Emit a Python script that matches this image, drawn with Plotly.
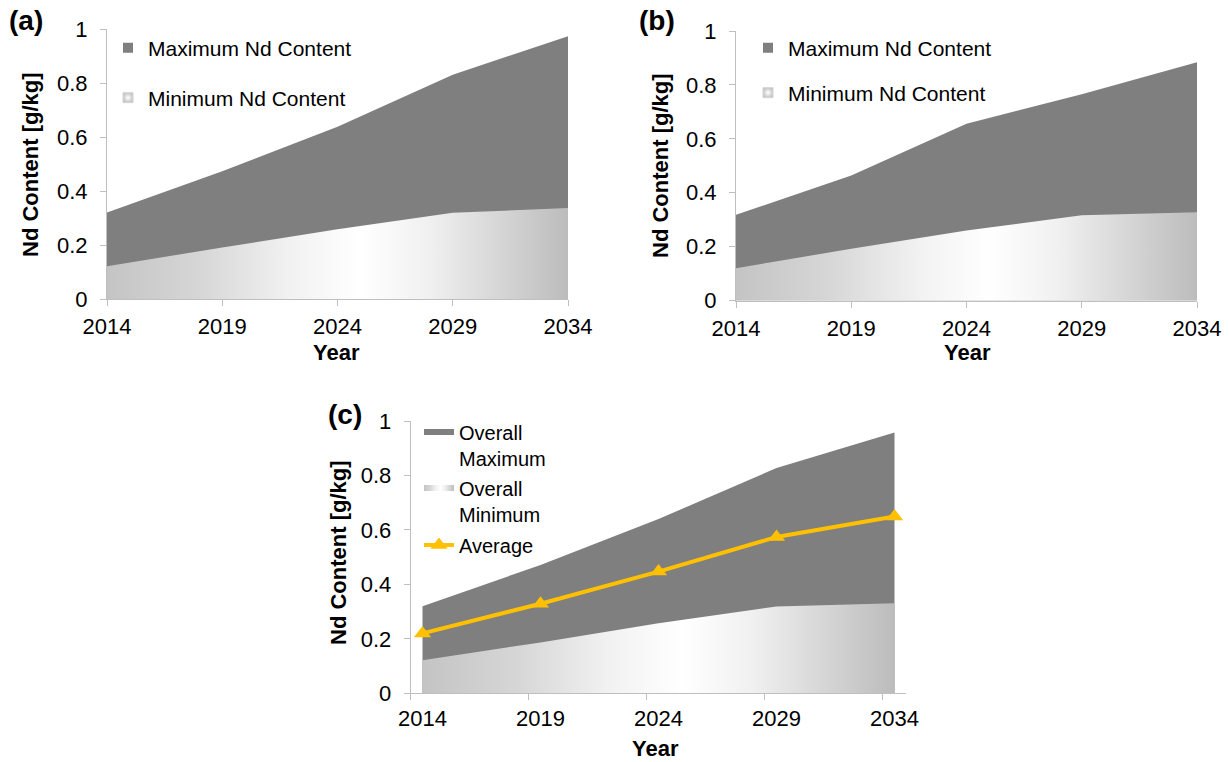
import plotly.graph_objects as go

# Projection years shown on every panel
years = [2014, 2019, 2024, 2029, 2034]

# Panel (a): maximum / minimum Nd content [g/kg]
max_a = [0.320, 0.473, 0.638, 0.831, 0.973]
min_a = [0.121, 0.191, 0.258, 0.319, 0.337]

# Panel (b)
max_b = [0.318, 0.464, 0.656, 0.765, 0.884]
min_b = [0.120, 0.192, 0.260, 0.316, 0.327]

# Panel (c): overall envelope and average
max_c = [0.320, 0.471, 0.640, 0.827, 0.958]
min_c = [0.121, 0.187, 0.257, 0.319, 0.331]
avg_c = [0.220, 0.329, 0.447, 0.574, 0.649]

y_tickvals = [0, 0.2, 0.4, 0.6, 0.8, 1]
y_ticktext = ["0", "0.2", "0.4", "0.6", "0.8", "1"]
x_ticktext = ["2014", "2019", "2024", "2029", "2034"]

W, H = 1229, 762
FONT = "Liberation Sans, Arial, sans-serif"
MAX_COLOR = "#7f7f7f"
AXIS_COLOR = "#bfbfbf"
AVG_COLOR = "#ffc000"
MIN_GRADIENT = dict(
    type="horizontal",
    colorscale=[[0, "#c4c4c4"], [0.2, "#d6d6d6"], [0.4, "#f2f2f2"],
                [0.55, "#ffffff"], [0.7, "#f0f0f0"], [0.85, "#d6d6d6"],
                [1, "#bcbcbc"]],
)


def px_x(v):
    return v / W


def px_y(v):
    return 1 - v / H


fig = go.Figure()


def add_envelope(xa, ya, ymax, ymin, name_max, name_min, leg_max, leg_min,
                 square_keys):
    fig.add_trace(go.Scatter(
        x=years, y=ymax, mode="none", fill="tozeroy", fillcolor=MAX_COLOR,
        name=name_max, xaxis=xa, yaxis=ya, legend=leg_max,
        showlegend=not square_keys,
    ))
    fig.add_trace(go.Scatter(
        x=years, y=ymin, mode="none", fill="tozeroy", fillcolor="#d9d9d9",
        fillgradient=MIN_GRADIENT,
        name=name_min, xaxis=xa, yaxis=ya, legend=leg_min,
        showlegend=not square_keys,
    ))
    if square_keys:
        # small square legend keys
        fig.add_trace(go.Scatter(
            x=[None], y=[None], mode="markers", name=name_max,
            marker=dict(symbol="square", size=10, color=MAX_COLOR),
            xaxis=xa, yaxis=ya, legend=leg_max,
        ))
        fig.add_trace(go.Scatter(
            x=[None], y=[None], mode="markers", name=name_min,
            marker=dict(symbol="square", size=10, color="#c4c4c4",
                        gradient=dict(type="radial", color="#ffffff"),
                        line=dict(color="#d4d4d4", width=1)),
            xaxis=xa, yaxis=ya, legend=leg_min,
        ))


add_envelope("x", "y", max_a, min_a, "Maximum Nd Content", "Minimum Nd Content",
             "legend", "legend2", True)
add_envelope("x2", "y2", max_b, min_b, "Maximum Nd Content", "Minimum Nd Content",
             "legend3", "legend4", True)
add_envelope("x3", "y3", max_c, min_c, "Overall<br>Maximum", "Overall<br>Minimum",
             "legend5", "legend6", False)
fig.add_trace(go.Scatter(
    x=years, y=avg_c, mode="lines+markers", name="Average",
    line=dict(color=AVG_COLOR, width=4),
    marker=dict(symbol="triangle-up", size=15, color=AVG_COLOR),
    xaxis="x3", yaxis="y3", legend="legend7",
))

TICK_SIZE = 22
axis_common = dict(
    showline=True, linecolor=AXIS_COLOR, linewidth=1,
    ticks="outside", ticklen=6, tickcolor=AXIS_COLOR, tickwidth=1,
    showgrid=False, zeroline=False,
    tickfont=dict(family=FONT, size=TICK_SIZE, color="black"),
)

yaxis_common = dict(axis_common, range=[0, 1], tickmode="array",
                    tickvals=y_tickvals, ticktext=y_ticktext,
                    ticklabelstandoff=8)

# plot-area boxes in pixels: (left, right, top, bottom)
box_a = (107, 568, 29, 299)
box_b = (736, 1197, 31, 300.5)
box_c = (410.7, 906.3, 421, 693.3)


def dom(box):
    l, r, t, b = box
    return [px_x(l), px_x(r)], [px_y(b), px_y(t)]


xd_a, yd_a = dom(box_a)
xd_b, yd_b = dom(box_b)
xd_c, yd_c = dom(box_c)

fig.update_layout(
    width=W, height=H,
    margin=dict(l=0, r=0, t=0, b=0, autoexpand=False),
    paper_bgcolor="white", plot_bgcolor="white",
    font=dict(family=FONT, size=20, color="black"),
    xaxis=dict(axis_common, domain=xd_a, anchor="y", range=[2014, 2034],
               tickmode="array", tickvals=years, ticktext=x_ticktext,
               ticklabelstandoff=2),
    yaxis=dict(yaxis_common, domain=yd_a, anchor="x"),
    xaxis2=dict(axis_common, domain=xd_b, anchor="y2", range=[2014, 2034],
                tickmode="array", tickvals=years, ticktext=x_ticktext,
                ticklabelstandoff=2),
    yaxis2=dict(yaxis_common, domain=yd_b, anchor="x2"),
    xaxis3=dict(axis_common, domain=xd_c, anchor="y3", range=[2013.5, 2034.5],
                tickmode="array", tickvals=years, ticktext=x_ticktext,
                ticks="", ticklabelstandoff=5,
                minor=dict(tickmode="array",
                           tickvals=[y - 0.5 for y in years],
                           ticks="outside", ticklen=6,
                           tickcolor=AXIS_COLOR, tickwidth=1)),
    yaxis3=dict(yaxis_common, domain=yd_c, anchor="x3"),
    showlegend=True,
)


def legend_at(x_text_px, y_center_px, valign="middle", size=21):
    return dict(
        x=px_x(x_text_px - 40), y=px_y(y_center_px),
        xanchor="left", yanchor="middle", valign=valign,
        bgcolor="rgba(0,0,0,0)",
        font=dict(family=FONT, size=size, color="black"),
        itemclick=False, itemdoubleclick=False,
    )


fig.update_layout(
    legend=legend_at(148, 48),
    legend2=legend_at(148, 98),
    legend3=legend_at(788, 48),
    legend4=legend_at(788, 93),
    legend5=legend_at(459, 445, "top", 20),
    legend6=legend_at(459, 501, "top", 20),
    legend7=legend_at(459, 545, "middle", 20),
)

# Axis titles and panel letters
annotations = []


def add_text(text, x_px, y_px, size=22, angle=0):
    annotations.append(dict(
        text=text, x=px_x(x_px), y=px_y(y_px), xref="paper", yref="paper",
        xanchor="center", yanchor="middle", showarrow=False, textangle=angle,
        font=dict(family=FONT, size=size, color="black"),
    ))


for (xt, yt) in [(30, 165), (660, 166), (338, 553)]:
    add_text("<b>Nd Content [g/kg]</b>", xt, yt, angle=-90)
for (xt, yt) in [(337, 353), (967, 353), (655, 748)]:
    add_text("<b>Year</b>", xt, yt)
add_text("<b>(a)</b>", 26, 20, size=28)
add_text("<b>(b)</b>", 657, 20, size=28)
add_text("<b>(c)</b>", 345, 415, size=28)

fig.update_layout(annotations=annotations)

fig.write_html("out.html")
